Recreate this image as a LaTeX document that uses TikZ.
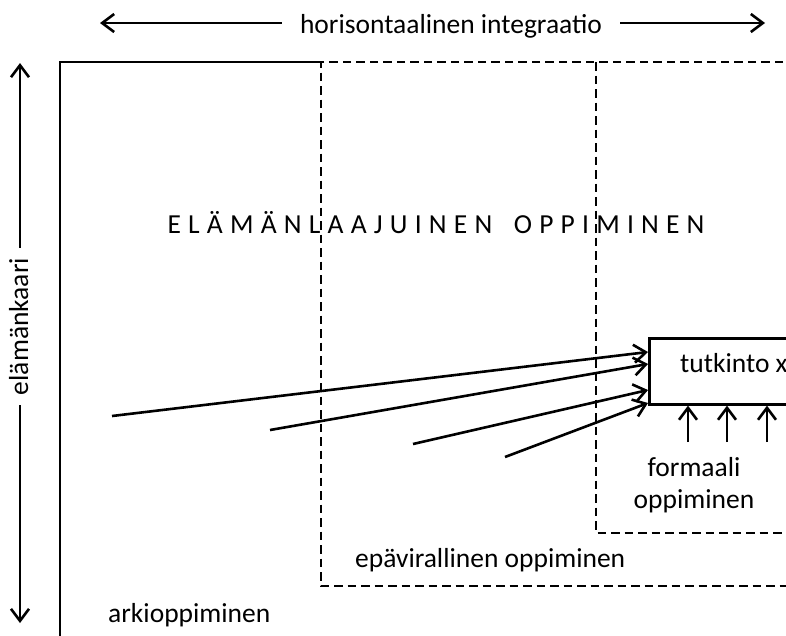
\documentclass[tikz,border=0pt]{standalone}
\usepackage{fontspec}
\setmainfont{Carlito}
\usetikzlibrary{arrows.meta}
\begin{document}
\begin{tikzpicture}[x=1pt,y=-1pt,
  lbl/.style={font=\fontsize{27.5pt}{31.5pt}\selectfont, inner sep=0pt},
  frame/.style={line width=2.6pt},
  zone/.style={line width=2.6pt, dash pattern=on 8.5pt off 5pt},
  arr/.style={line width=2.6pt, -{Straight Barb[length=12pt,width=18pt,line width=2.6pt]}}]
\useasboundingbox (0,0) rectangle (786,635);
\clip (0,0) rectangle (786,635);

% axis: horizontal integration
\node[lbl, anchor=base, inner xsep=18pt] (hi) at (451,33) {horisontaalinen integraatio};
\coordinate (hl) at (100,23);
\coordinate (hr) at (765,23);
\draw[arr] (hi.west |- hl) -- (hl);
\draw[arr] (hi.east |- hr) -- (hr);

% axis: life span
\node[lbl, rotate=90, anchor=base, inner xsep=10pt] (lk) at (28,326.5) {elämänkaari};
\coordinate (kt) at (20,63);
\coordinate (kb) at (20,623);
\draw[arr] (lk.east -| kt) -- (kt);
\draw[arr] (lk.west -| kb) -- (kb);

% everyday learning: outer frame
\draw[frame] (321,62) -- (60,62) -- (60,650);
% non-formal learning
\draw[zone] (810,62) -- (321,62) -- (321,586) -- (810,586);
% formal learning
\draw[zone] (596,62) -- (596,533) -- (810,533);

\node[lbl, anchor=base, font=\fontsize{27.5pt}{31.5pt}\selectfont\addfontfeature{LetterSpace=3.6}] (elo) at (436,233) {E L Ä M Ä N L A A J U I N E N~~~O P P I M I N E N};
\node[lbl, anchor=base west] (arki) at (108,622) {arkioppiminen};
\node[lbl, anchor=base west] (epa) at (355,567) {epävirallinen oppiminen};
\node[lbl, anchor=base, align=center] (form) at (694,508) {formaali\\oppiminen};

% degree box
\node[frame, draw, anchor=north west, minimum width=200pt, minimum height=66pt, inner sep=0pt] (tx) at (648,337) {};
\node[lbl, anchor=base west] (txl) at (680,372) {tutkinto x};

% learning paths into the degree
\coordinate (s1) at (112,416);
\coordinate (s2) at (270,430);
\coordinate (s3) at (413,444);
\coordinate (s4) at (505,457);
\coordinate (e1) at (648,352);
\coordinate (e2) at (648,364);
\coordinate (e3) at (648,390);
\coordinate (e4) at (648,403);
\draw[arr] (s1) -- (e1);
\draw[arr] (s2) -- (e2);
\draw[arr] (s3) -- (e3);
\draw[arr] (s4) -- (e4);

% formal learning inputs
\coordinate (f1) at (688,442);
\coordinate (f2) at (727,442);
\coordinate (f3) at (767,442);
\draw[arr] (f1) -- (f1 |- tx.south);
\draw[arr] (f2) -- (f2 |- tx.south);
\draw[arr] (f3) -- (f3 |- tx.south);
\end{tikzpicture}
\end{document}
